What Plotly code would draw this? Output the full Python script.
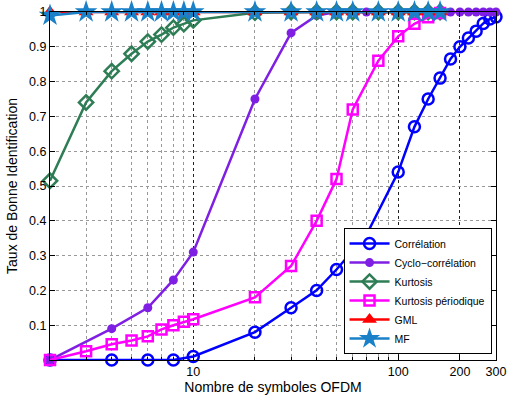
import plotly.graph_objects as go

# ---- data ----
x_corr = [2, 4, 6, 8, 10, 20, 30, 40, 50, 70, 100, 120, 140, 160, 180, 200, 220, 240, 260, 280, 300]
y_corr = [0, 0, 0, 0, 0.01, 0.08, 0.15, 0.20, 0.26, 0.36, 0.54, 0.67, 0.75, 0.81, 0.865, 0.90, 0.925, 0.945, 0.967, 0.98, 0.986]
y_cyclo = [0, 0.09, 0.15, 0.23, 0.31, 0.75, 0.94, 0.99, 1, 1, 1, 1, 1, 1, 1, 1, 1, 1, 1, 1, 1]

x_k = [2, 3, 4, 5, 6, 7, 8, 9, 10, 20, 30, 40, 50, 60, 80, 100, 120, 140, 160]
y_kurt = [0.515, 0.74, 0.83, 0.88, 0.915, 0.935, 0.955, 0.965, 0.976, 0.998, 1, 1, 1, 1, 1, 1, 1, 1, 1]
y_kper = [0, 0.025, 0.045, 0.056, 0.068, 0.088, 0.10, 0.11, 0.117, 0.18, 0.27, 0.40, 0.52, 0.72, 0.86, 0.93, 0.966, 0.985, 0.997]
y_gml = [1] * 19
y_mf = [0.99] + [1] * 18

x_ticks = [10, 100, 200, 300]
x_ticktext = ["10", "100", "200", "300"]
x_minor = [2, 3, 4, 5, 6, 7, 8, 9, 20, 30, 40, 50, 60, 70, 80, 90]
y_ticks = [0.1, 0.2, 0.3, 0.4, 0.5, 0.6, 0.7, 0.8, 0.9, 1.0]
y_ticktext = ["0.1", "0.2", "0.3", "0.4", "0.5", "0.6", "0.7", "0.8", "0.9", "1"]

FONT = "Arial, Liberation Sans, Helvetica, sans-serif"

fig = go.Figure()
lw = 2.5
fig.add_trace(go.Scatter(x=x_corr, y=y_corr, name="Corrélation", mode="lines+markers",
                         line=dict(color="#0000FF", width=lw),
                         marker=dict(symbol="circle-open", size=11, color="#0000FF", line=dict(width=2.5)),
                         cliponaxis=False))
fig.add_trace(go.Scatter(x=x_corr, y=y_cyclo, name="Cyclo\u2212corrélation", mode="lines+markers",
                         line=dict(color="#7F1FE3", width=lw),
                         marker=dict(symbol="circle", size=9, color="#7F1FE3"),
                         cliponaxis=False))
fig.add_trace(go.Scatter(x=x_k, y=y_kurt, name="Kurtosis", mode="lines+markers",
                         line=dict(color="#2E7D55", width=lw),
                         marker=dict(symbol="diamond-open", size=11, color="#2E7D55", line=dict(width=2.5)),
                         cliponaxis=False))
fig.add_trace(go.Scatter(x=x_k, y=y_kper, name="Kurtosis périodique", mode="lines+markers",
                         line=dict(color="#FF00FF", width=lw),
                         marker=dict(symbol="square-open", size=10, color="#FF00FF", line=dict(width=2.5)),
                         cliponaxis=False))
fig.add_trace(go.Scatter(x=x_k, y=y_gml, name="GML", mode="lines+markers",
                         line=dict(color="#FF0000", width=lw),
                         marker=dict(symbol="triangle-up", size=13, color="#FF0000"),
                         cliponaxis=False))
fig.add_trace(go.Scatter(x=x_k, y=y_mf, name="MF", mode="lines+markers",
                         line=dict(color="#1A80C8", width=lw),
                         marker=dict(symbol="star", size=17, color="#1A80C8"),
                         cliponaxis=False))

fig.update_layout(
    width=508, height=395,
    margin=dict(l=50, r=12, t=12, b=35),
    paper_bgcolor="white", plot_bgcolor="white",
    font=dict(family=FONT, size=12, color="black"),
    showlegend=True,
    hovermode=False,
    legend=dict(x=0.99, y=0.017, xanchor="right", yanchor="bottom",
                bgcolor="white", bordercolor="black", borderwidth=1,
                font=dict(family=FONT, size=10.5), tracegroupgap=0,
                itemwidth=40),
)
fig.update_xaxes(
    type="log", range=[0.301025, 2.477125], automargin=False,
    ticklabeloverflow="allow",
    tickmode="array", tickvals=x_ticks, ticktext=x_ticktext,
    showline=True, linecolor="black", linewidth=1, mirror="allticks",
    ticks="inside", ticklen=5, tickcolor="black",
    showgrid=True, gridcolor="#222222", griddash="dot", gridwidth=1,
    minor=dict(tickmode="array", tickvals=x_minor, ticks="inside", ticklen=3, tickcolor="black",
               showgrid=True, gridcolor="#999999", griddash="dot", gridwidth=1),
    zeroline=False,
    title=dict(text="Nombre de symboles OFDM", standoff=2, font=dict(size=14)),
    tickfont=dict(size=12.5),
)
fig.update_yaxes(
    range=[0, 1], automargin=False,
    ticklabeloverflow="allow",
    tickmode="array", tickvals=y_ticks, ticktext=y_ticktext,
    showline=True, linecolor="black", linewidth=1, mirror="allticks",
    ticks="inside", ticklen=5, tickcolor="black",
    showgrid=True, gridcolor="#999999", griddash="dot", gridwidth=1,
    zeroline=False,
    title=dict(text="Taux de Bonne Identification", standoff=8, font=dict(size=14)),
    tickfont=dict(size=12.5),
)

fig.write_html("out.html",
               config={"displayModeBar": False},
               post_script="document.body.style.margin='0px';document.body.style.overflow='hidden';")
